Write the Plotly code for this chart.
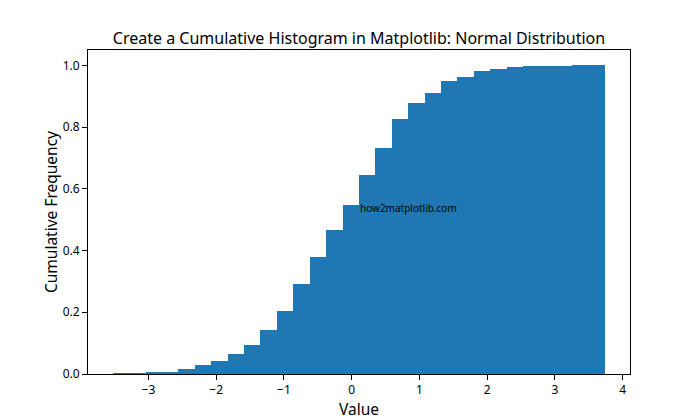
"""Cumulative histogram of a normal sample, rebuilt with Plotly."""
import numpy as np
import plotly.graph_objects as go

# 30 bins
bin_first_edge = -3.528
bin_width = 0.2424
cum_freq = [
    0.002, 0.003, 0.004, 0.0065, 0.016, 0.030, 0.042, 0.065, 0.094, 0.143,
    0.205, 0.292, 0.380, 0.468, 0.549, 0.646, 0.734, 0.825, 0.877, 0.912,
    0.948, 0.964, 0.981, 0.990, 0.994, 0.997, 0.997, 0.997, 1.000, 1.000,
]
x_ticks = [-3, -2, -1, 0, 1, 2, 3, 4]
y_ticks = [0.0, 0.2, 0.4, 0.6, 0.8, 1.0]

centers = bin_first_edge + bin_width * (np.arange(len(cum_freq)) + 0.5)

font = "Noto Sans, Open Sans, DejaVu Sans, sans-serif"

fig = go.Figure()
fig.add_trace(
    go.Bar(
        x=centers,
        y=cum_freq,
        width=bin_width,
        marker=dict(color="#1f77b4", line=dict(width=0)),
        hoverinfo="skip",
    )
)

fig.add_annotation(
    text="how2matplotlib.com",
    xref="paper", yref="paper",
    x=0.5, y=0.488,
    xanchor="left", yanchor="bottom",
    showarrow=False,
    borderpad=0,
    font=dict(size=10, color="black", family=font),
)

axis_style = dict(
    showline=True, mirror=True, linecolor="black", linewidth=1,
    ticks="outside", ticklen=5, tickcolor="black",
    showgrid=False, zeroline=False, automargin=False,
    tickfont=dict(size=12, color="black", family=font),
)

fig.update_xaxes(
    range=[-3.892, 4.109], tickvals=x_ticks,
    title=dict(text="Value", font=dict(size=15.5, color="black", family=font), standoff=2),
    **axis_style,
)
fig.update_yaxes(
    range=[0, 1.05], tickvals=y_ticks, tickformat=".1f",
    title=dict(text="Cumulative Frequency", font=dict(size=15.5, color="black", family=font), standoff=1),
    **axis_style,
)

fig.update_layout(
    width=700, height=420,
    margin=dict(l=88, r=70, t=50, b=46),
    paper_bgcolor="white", plot_bgcolor="white",
    bargap=0, showlegend=False,
    title=dict(
        text="Create a Cumulative Histogram in Matplotlib: Normal Distribution",
        x=0.5, xref="paper", xanchor="center",
        y=1, yref="container", yanchor="top", pad=dict(t=33),
        font=dict(size=16, color="black", family=font),
    ),
)

# drop the browser's default 8px body margin so the figure sits at 0,0
fig.write_html(
    "out.html",
    config={"displayModeBar": False},
    post_script="document.body.style.margin='0';",
)
